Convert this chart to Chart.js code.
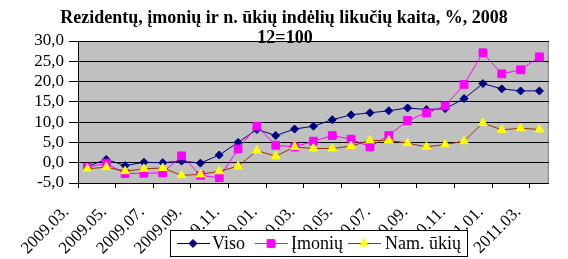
<!DOCTYPE html>
<html>
<head>
<meta charset="utf-8">
<script src="https://cdn.jsdelivr.net/npm/chart.js@4"></script>
<style>
  body { margin: 0; background: #fff; }
  #wrap { width: 568px; height: 259px; }
</style>
</head>
<body>
<div id="wrap"><canvas id="c" width="568" height="259"></canvas></div>
<script>
// ===== DATA =====
const months = ["2009.03.", "2009.04.", "2009.05.", "2009.06.", "2009.07.", "2009.08.", "2009.09.", "2009.10.",
  "2009.11.", "2009.12.", "2010.01.", "2010.02.", "2010.03.", "2010.04.", "2010.05.", "2010.06.", "2010.07.",
  "2010.08.", "2010.09.", "2010.10.", "2010.11.", "2010.12.", "2011.01.", "2011.02.", "2011.03."];
const viso = [-0.9, 0.8, -0.7, 0.1, 0.0, 0.4, -0.1, 1.9, 5.0, 8.2, 6.7, 8.3, 9.0, 10.6, 11.8, 12.3, 12.8, 13.5, 13.1, 13.3, 15.8, 19.5, 18.2, 17.7, 17.7];
const imoniu = [-1.1, -0.1, -2.7, -2.6, -2.5, 1.7, -3.1, -3.7, 3.4, 9.0, 4.3, 3.9, 5.3, 6.7, 5.8, 3.9, 6.7, 10.4, 12.3, 14.0, 19.3, 27.1, 21.9, 22.9, 26.1];
const namUkiu = [-1.5, -1.1, -2.1, -1.5, -1.3, -3.1, -2.9, -2.1, -0.9, 3.0, 1.6, 3.9, 3.5, 3.5, 4.1, 5.5, 5.5, 4.8, 3.9, 4.5, 5.3, 9.8, 8.1, 8.5, 8.2];
const seriesNames = ["Viso", "Įmonių", "Nam. ūkių"];
const titleLines = ["Rezidentų, įmonių ir n. ūkių indėlių likučių kaita, %, 2008", "12=100"];

const FONT = "'Liberation Serif', 'Times New Roman', serif";

// gray plot background + frame
const plotBg = {
  id: "plotBg",
  beforeDraw(chart) {
    const { ctx, chartArea: a } = chart;
    ctx.save();
    ctx.fillStyle = "#c0c0c0";
    ctx.fillRect(a.left, a.top, a.right - a.left, a.bottom - a.top);
    ctx.strokeStyle = "#808080";
    ctx.lineWidth = 1;
    ctx.beginPath();
    ctx.moveTo(a.left, a.top + 0.5);
    ctx.lineTo(a.right - 0.5, a.top + 0.5);
    ctx.lineTo(a.right - 0.5, a.bottom);
    ctx.stroke();
    ctx.restore();
  }
};

// title + legend drawn over everything
const overlay = {
  id: "overlay",
  afterDraw(chart) {
    const ctx = chart.ctx;
    ctx.save();
    ctx.fillStyle = "#000";
    ctx.textAlign = "center";
    ctx.textBaseline = "middle";
    ctx.font = "bold 18px " + FONT;
    ctx.fillText(titleLines[0], 284, 18);
    ctx.fillText(titleLines[1], 285, 38);

    // legend box
    ctx.fillStyle = "#fff";
    ctx.fillRect(170, 230, 297, 26);
    ctx.strokeStyle = "#000";
    ctx.lineWidth = 1;
    ctx.strokeRect(170.5, 230.5, 297, 26);

    const items = [
      { x: 177, tx: 212, color: "#000080", fill: "#000080", style: "rectRot", r: 4 },
      { x: 255, tx: 291, color: "#ff00ff", fill: "#ff00ff", style: "rect", r: 5.5 },
      { x: 348, tx: 385, color: "#993300", fill: "#ffff00", style: "triangle", r: 5 }
    ];
    ctx.font = "18px " + FONT;
    ctx.textAlign = "left";
    items.forEach((it, i) => {
      const y = 243.5;
      ctx.strokeStyle = it.color;
      ctx.beginPath();
      ctx.moveTo(it.x, y);
      ctx.lineTo(it.x + 33, y);
      ctx.stroke();
      ctx.fillStyle = it.fill;
      ctx.strokeStyle = it.fill;
      Chart.helpers.drawPoint(ctx, { pointStyle: it.style, radius: it.r, borderWidth: 1 }, it.x + 16, y);
      ctx.fillStyle = "#000";
      ctx.fillText(seriesNames[i], it.tx, y + 1);
    });
    ctx.restore();
  }
};

const ds = (label, data, line, fill, style, r) => ({
  label, data,
  borderColor: line,
  borderWidth: 1,
  pointStyle: style,
  pointRadius: r,
  pointBackgroundColor: fill,
  pointBorderColor: fill,
  pointBorderWidth: 1,
  tension: 0
});

new Chart(document.getElementById("c"), {
  type: "line",
  data: {
    labels: months,
    datasets: [
      ds(seriesNames[2], namUkiu, "#993300", "#ffff00", "triangle", 5),
      ds(seriesNames[1], imoniu, "#ff00ff", "#ff00ff", "rect", 5.5),
      ds(seriesNames[0], viso, "#000080", "#000080", "rectRot", 4)
    ]
  },
  options: {
    responsive: false,
    animation: false,
    layout: { padding: { top: 41, right: 8, left: 0, bottom: 0 } },
    plugins: { legend: { display: false }, title: { display: false }, tooltip: { enabled: false } },
    scales: {
      x: {
        offset: true,
        afterFit(s) { s.height = 76; },
        grid: {
          offset: true,
          drawOnChartArea: false,
          drawTicks: true,
          tickLength: 5,
          color: (c) => (c.index % 2 === 0 ? "#000" : "rgba(0,0,0,0)")
        },
        border: { display: true, color: "#000" },
        ticks: {
          autoSkip: false,
          maxRotation: 45,
          minRotation: 45,
          padding: 14,
          labelOffset: -21,
          color: "#000",
          font: { family: FONT, size: 17 },
          callback(v, i) { return i % 2 === 0 ? months[i] : ""; }
        }
      },
      y: {
        min: -5,
        max: 30,
        afterFit(s) { s.width = 78; },
        grid: { color: "#000", lineWidth: 1, drawTicks: true, tickLength: 9 },
        border: { display: true, color: "#000" },
        ticks: {
          stepSize: 5,
          autoSkip: false,
          padding: 5,
          color: "#000",
          font: { family: FONT, size: 17 },
          callback: (v) => v.toFixed(1).replace(".", ",")
        }
      }
    }
  },
  plugins: [plotBg, overlay]
});
</script>
</body>
</html>
